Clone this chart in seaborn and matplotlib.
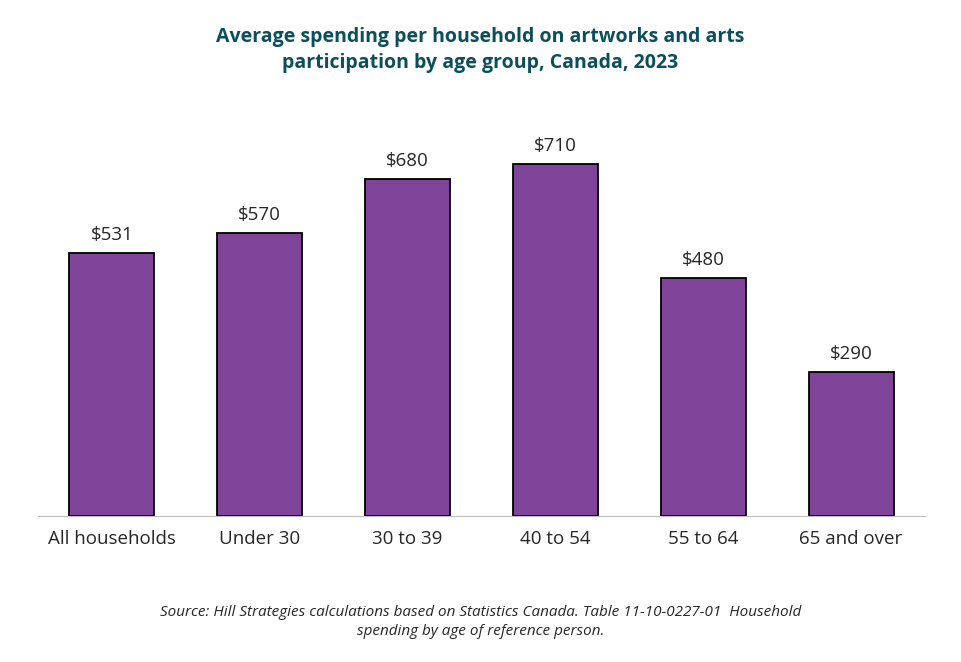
import matplotlib
matplotlib.use('Agg')
import matplotlib.pyplot as plt
import seaborn as sns
import pandas as pd
import numpy as np

sns.set_style("white")
plt.rcParams['font.family'] = ['Open Sans', 'DejaVu Sans']

# Data
groups = ['All households', 'Under 30', '30 to 39', '40 to 54', '55 to 64', '65 and over']
spending = [531, 570, 680, 710, 480, 290]
df = pd.DataFrame({'group': groups, 'spending': spending})

fig = plt.figure(figsize=(9.61, 6.62), dpi=100)
ax = fig.add_axes([0.0395, 0.2205, 0.923, 0.5997])

sns.barplot(data=df, x='group', y='spending', color='#7F4499', saturation=1,
            width=0.575, edgecolor='black', linewidth=1.3, ax=ax)

for i, v in enumerate(spending):
    ax.text(i, v + 18, f'${v}', ha='center', va='bottom', fontsize=13.5)

ax.set_ylim(0, 800)
ax.set_xlim(-0.5, len(groups) - 0.5)
ax.set_yticks([])
ax.set_xlabel('')
ax.set_ylabel('')
for s in ['top', 'right', 'left']:
    ax.spines[s].set_visible(False)
ax.spines['bottom'].set_color('#BFBFBF')
ax.tick_params(axis='x', which='major', length=0, labelsize=13.5, pad=10)
ax.set_xticks(np.arange(-0.5, len(groups)), minor=True)
ax.tick_params(axis='x', which='minor', length=6, color='#BFBFBF', direction='out')

fig.text(0.5, 0.925, 'Average spending per household on artworks and arts\nparticipation by age group, Canada, 2023',
         ha='center', va='center', fontsize=14, fontweight='bold', color='#0B4F5C', linespacing=1.4)
fig.text(0.5, 0.06, 'Source: Hill Strategies calculations based on Statistics Canada. Table 11-10-0227-01  Household\nspending by age of reference person.',
         ha='center', va='center', fontsize=11, style='italic', linespacing=1.4)

plt.savefig('out.png', dpi=100)
plt.close()
